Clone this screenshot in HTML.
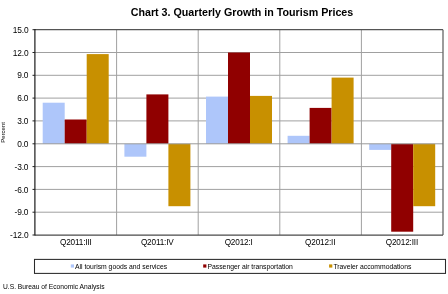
<!DOCTYPE html>
<html><head><meta charset="utf-8">
<style>
html,body{margin:0;padding:0;background:#fff;width:448px;height:294px;overflow:hidden}
svg{display:block;font-family:"Liberation Sans",sans-serif}
text{-webkit-font-smoothing:antialiased}
.gs{will-change:transform}
</style></head><body>
<svg class="gs" width="448" height="294" viewBox="0 0 448 294">
<rect x="0" y="0" width="448" height="294" fill="#fff"/>
<!-- title -->
<text x="242" y="15.9" text-anchor="middle" font-size="10.7" font-weight="bold" fill="#000">Chart 3. Quarterly Growth in Tourism Prices</text>

<!-- gridlines -->
<g stroke="#a0a0a0" stroke-width="1">
<line x1="35" y1="52.5" x2="443" y2="52.5"/>
<line x1="35" y1="75.3" x2="443" y2="75.3"/>
<line x1="35" y1="98.1" x2="443" y2="98.1"/>
<line x1="35" y1="120.9" x2="443" y2="120.9"/>
<line x1="35" y1="166.6" x2="443" y2="166.6"/>
<line x1="35" y1="189.4" x2="443" y2="189.4"/>
<line x1="35" y1="212.2" x2="443" y2="212.2"/>
</g>
<!-- separators -->
<g stroke="#a0a0a0" stroke-width="1">
<line x1="116.6" y1="29.7" x2="116.6" y2="235"/>
<line x1="198.2" y1="29.7" x2="198.2" y2="235"/>
<line x1="279.8" y1="29.7" x2="279.8" y2="235"/>
<line x1="361.4" y1="29.7" x2="361.4" y2="235"/>
</g>

<!-- bars -->
<g id="bars"></g>
<g>
<!-- cat1 -->
<rect x="42.7" y="102.7" width="22" height="41.1" fill="#aec6fa"/>
<rect x="64.7" y="119.5" width="22" height="24.3" fill="#900000"/>
<rect x="86.7" y="54.1" width="22" height="89.7" fill="#c89000"/>
<!-- cat2 -->
<rect x="124.4" y="143.8" width="22" height="12.9" fill="#aec6fa"/>
<rect x="146.4" y="94.4" width="22" height="49.4" fill="#900000"/>
<rect x="168.4" y="143.8" width="22" height="62.4" fill="#c89000"/>
<!-- cat3 -->
<rect x="206" y="96.6" width="22" height="47.2" fill="#aec6fa"/>
<rect x="228" y="52.5" width="22" height="91.3" fill="#900000"/>
<rect x="250" y="95.9" width="22" height="47.9" fill="#c89000"/>
<!-- cat4 -->
<rect x="287.6" y="135.8" width="22" height="8" fill="#aec6fa"/>
<rect x="309.6" y="107.9" width="22" height="35.9" fill="#900000"/>
<rect x="331.6" y="77.6" width="22" height="66.2" fill="#c89000"/>
<!-- cat5 -->
<rect x="369.2" y="143.8" width="22" height="6.1" fill="#aec6fa"/>
<rect x="391.2" y="143.8" width="22" height="87.9" fill="#900000"/>
<rect x="413.2" y="143.8" width="22" height="62.4" fill="#c89000"/>
</g>

<!-- zero line over bars -->
<line x1="35" y1="143.8" x2="443" y2="143.8" stroke="#999" stroke-width="1"/>

<!-- plot border -->
<line x1="35" y1="29.7" x2="443" y2="29.7" stroke="#555" stroke-width="1.3"/>
<line x1="443" y1="29.7" x2="443" y2="235" stroke="#666" stroke-width="1.3"/>
<line x1="35" y1="235" x2="443" y2="235" stroke="#4a4a4a" stroke-width="1.25"/>
<line x1="34.9" y1="29" x2="34.9" y2="235.6" stroke="#111" stroke-width="1.15"/>

<!-- y ticks -->
<g stroke="#222" stroke-width="1">
<line x1="32.5" y1="29.7" x2="35" y2="29.7"/>
<line x1="32.5" y1="52.5" x2="35" y2="52.5"/>
<line x1="32.5" y1="75.3" x2="35" y2="75.3"/>
<line x1="32.5" y1="98.1" x2="35" y2="98.1"/>
<line x1="32.5" y1="120.9" x2="35" y2="120.9"/>
<line x1="32.5" y1="143.8" x2="35" y2="143.8"/>
<line x1="32.5" y1="166.6" x2="35" y2="166.6"/>
<line x1="32.5" y1="189.4" x2="35" y2="189.4"/>
<line x1="32.5" y1="212.2" x2="35" y2="212.2"/>
<line x1="32.5" y1="235" x2="35" y2="235"/>
</g>

<!-- y labels -->
<g font-size="8.4" text-anchor="end" fill="#000" letter-spacing="-0.15">
<text x="28.4" y="32.8">15.0</text>
<text x="28.4" y="55.6">12.0</text>
<text x="28.4" y="78.4">9.0</text>
<text x="28.4" y="101.2">6.0</text>
<text x="28.4" y="124.0">3.0</text>
<text x="28.4" y="146.9">0.0</text>
<text x="28.4" y="169.7">-3.0</text>
<text x="28.4" y="192.5">-6.0</text>
<text x="28.4" y="215.3">-9.0</text>
<text x="28.4" y="238.1">-12.0</text>
</g>

<!-- Percent -->
<text transform="translate(5.3,132.5) rotate(-90)" text-anchor="middle" font-size="6" fill="#000">Percent</text>

<!-- x labels -->
<g font-size="8.2" text-anchor="middle" fill="#000" letter-spacing="-0.15">
<text x="75.8" y="244.6">Q2011:III</text>
<text x="157.3" y="244.6">Q2011:IV</text>
<text x="238.7" y="244.6">Q2012:I</text>
<text x="320.2" y="244.6">Q2012:II</text>
<text x="401.9" y="244.6">Q2012:III</text>
</g>

<!-- legend -->
<rect x="34.5" y="259.4" width="411" height="14" fill="#fff" stroke="#2a2a2a" stroke-width="1.05"/>
<rect x="70.8" y="264.4" width="3.2" height="3.2" fill="#aec6fa"/>
<rect x="203.2" y="264.4" width="3.2" height="3.2" fill="#900000"/>
<rect x="329.1" y="264.4" width="3.2" height="3.2" fill="#c89000"/>
<g font-size="6.8" fill="#000">
<text x="75" y="268.8">All tourism goods and services</text>
<text x="207.5" y="268.8">Passenger air transportation</text>
<text x="333.4" y="268.8">Traveler accommodations</text>
</g>

<!-- footer -->
<text x="3" y="289.2" font-size="6.7" fill="#000">U.S. Bureau of Economic Analysis</text>
</svg>
</body></html>
